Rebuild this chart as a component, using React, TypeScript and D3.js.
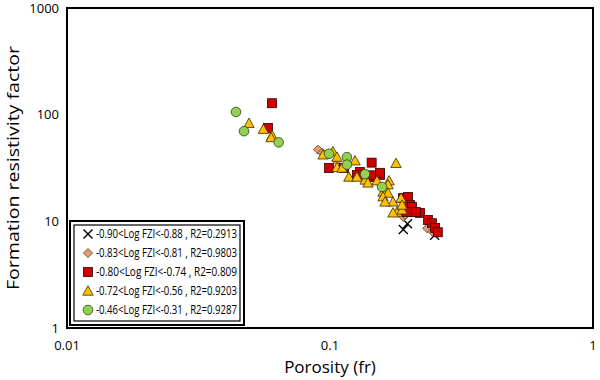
import React from "react";
import * as d3 from "d3";

const W = 600, H = 380;
const M = { left: 67, right: 593, top: 8, bottom: 328 };

const xTicks = [0.01, 0.1, 1];
const yTicks = [1, 10, 100, 1000];
const xTickLabels = ["0.01", "0.1", "1"];
const yTickLabels = ["1", "10", "100", "1000"];

const seriesNames = [
  "-0.90<Log FZI<-0.88 , R2=0.2913",
  "-0.83<Log FZI<-0.81 , R2=0.9803",
  "-0.80<Log FZI<-0.74 , R2=0.809",
  "-0.72<Log FZI<-0.56 , R2=0.9203",
  "-0.46<Log FZI<-0.31 , R2=0.9287",
];

// [porosity, F]
const crossPts: [number, number][] = [
  [0.197, 9.5], [0.19, 8.4], [0.25, 7.4],
];
const diamondPts: [number, number][] = [
  [0.09, 47], [0.0935, 44], [0.106, 37], [0.19, 11], [0.193, 11.5], [0.234, 8.6], [0.245, 8.0],
];
const squarePts: [number, number][] = [
  [0.0602, 128], [0.0581, 75], [0.0991, 31.6], [0.113, 31.6], [0.13, 29], [0.144, 35.5],
  [0.144, 26], [0.155, 27.2], [0.1266, 27.2], [0.1451, 27], [0.155, 28.5],
  [0.1895, 16.5], [0.198, 16.9], [0.2015, 14.2], [0.205, 13.6], [0.2068, 12.2],
  [0.22, 12], [0.2123, 12.2], [0.196, 12.2], [0.236, 10.3], [0.244, 9.6], [0.251, 8.65], [0.257, 7.9],
];
const trianglePts: [number, number][] = [
  [0.0492, 83], [0.0558, 73], [0.0602, 64], [0.0597, 61], [0.0941, 42], [0.1026, 45],
  [0.1063, 40], [0.1245, 37], [0.1063, 32], [0.118, 26], [0.1266, 26], [0.136, 24.4],
  [0.1394, 22.9], [0.1111, 31.6], [0.1509, 24], [0.1677, 24], [0.1662, 22], [0.1782, 35],
  [0.1591, 18.8], [0.1662, 18.4], [0.1591, 17], [0.1736, 15.2], [0.1862, 16.5],
  [0.1619, 15.2], [0.1798, 12.2], [0.1879, 12.8], [0.1879, 14.2], [0.1736, 12],
];
const circlePts: [number, number][] = [
  [0.0439, 106], [0.0471, 70], [0.0638, 55], [0.0991, 43], [0.116, 40], [0.116, 34],
  [0.1359, 27.7], [0.1577, 21],
];

const x = d3.scaleLog().domain([0.01, 1]).range([M.left, M.right]);
const y = d3.scaleLog().domain([1, 1000]).range([M.bottom, M.top]);

const FONT = "'Open Sans', 'Noto Sans', sans-serif";

type Kind = "cross" | "diamond" | "square" | "triangle" | "circle";

function Marker({ kind, cx, cy }: { kind: Kind; cx: number; cy: number }) {
  if (kind === "cross") {
    const s = 4.5;
    return (
      <g stroke="#000" strokeWidth={1.4}>
        <line x1={cx - s} y1={cy - s} x2={cx + s} y2={cy + s} />
        <line x1={cx - s} y1={cy + s} x2={cx + s} y2={cy - s} />
      </g>
    );
  }
  if (kind === "diamond") {
    const s = 4.5;
    return (
      <path d={`M${cx},${cy - s}L${cx + s},${cy}L${cx},${cy + s}L${cx - s},${cy}Z`}
        fill="#e0a070" stroke="#5a3a1a" strokeWidth={0.8} />
    );
  }
  if (kind === "square") {
    const s = 4.5;
    return <rect x={cx - s} y={cy - s} width={2 * s} height={2 * s} fill="#cc0000" stroke="#3a0000" strokeWidth={0.8} />;
  }
  if (kind === "triangle") {
    const s = 5.2;
    return (
      <path d={`M${cx},${cy - s}L${cx + s},${cy + s * 0.8}L${cx - s},${cy + s * 0.8}Z`}
        fill="#ffc000" stroke="#3a2a00" strokeWidth={0.8} />
    );
  }
  return <circle cx={cx} cy={cy} r={4.8} fill="#92d050" stroke="#2a3f1a" strokeWidth={0.8} />;
}

const series: { kind: Kind; pts: [number, number][] }[] = [
  { kind: "cross", pts: crossPts },
  { kind: "diamond", pts: diamondPts },
  { kind: "square", pts: squarePts },
  { kind: "triangle", pts: trianglePts },
  { kind: "circle", pts: circlePts },
];

export default function App() {
  const lg = { x: 70, y: 221, w: 174, h: 104 };
  return (
    <svg width={W} height={H} style={{ position: "absolute", left: 0, top: 0, background: "#fff" }}>
      <rect x={0} y={0} width={W} height={H} fill="#fff" />
      <rect x={M.left} y={M.top} width={M.right - M.left} height={M.bottom - M.top}
        fill="none" stroke="#000" strokeWidth={2} />
      {series.map((s, i) => (
        <g key={i}>
          {s.pts.map((p, j) => (
            <Marker key={j} kind={s.kind} cx={x(p[0])} cy={y(p[1])} />
          ))}
        </g>
      ))}
      {yTicks.map((t, i) => (
        <text key={t} x={M.left - 8} y={y(t)} dy="0.35em" textAnchor="end"
          fontFamily={FONT} fontSize={13} fill="#000">{yTickLabels[i]}</text>
      ))}
      {xTicks.map((t, i) => (
        <text key={t} x={x(t)} y={M.bottom + 22} textAnchor="middle"
          fontFamily={FONT} fontSize={13} fill="#000">{xTickLabels[i]}</text>
      ))}
      <text x={(M.left + M.right) / 2} y={373} textAnchor="middle" fontFamily={FONT} fontSize={17}>Porosity (fr)</text>
      <text transform={`translate(19,${(M.top + M.bottom) / 2}) rotate(-90)`} textAnchor="middle"
        fontFamily={FONT} fontSize={17} textLength={244} lengthAdjust="spacingAndGlyphs">Formation resistivity factor</text>
      <rect x={lg.x} y={lg.y} width={lg.w} height={lg.h} fill="#fff" stroke="#000" strokeWidth={2} />
      <rect x={lg.x + 4} y={lg.y + 4} width={lg.w - 8} height={lg.h - 8} fill="none" stroke="#000" strokeWidth={1.2} />
      {series.map((s, i) => {
        const ry = lg.y + 13 + i * 19;
        return (
          <g key={i}>
            <Marker kind={s.kind} cx={lg.x + 18} cy={ry} />
            <text x={lg.x + 26} y={ry} dy="0.35em" fontFamily={FONT} fontSize={12}
              textLength={141} lengthAdjust="spacingAndGlyphs">{seriesNames[i]}</text>
          </g>
        );
      })}
    </svg>
  );
}
